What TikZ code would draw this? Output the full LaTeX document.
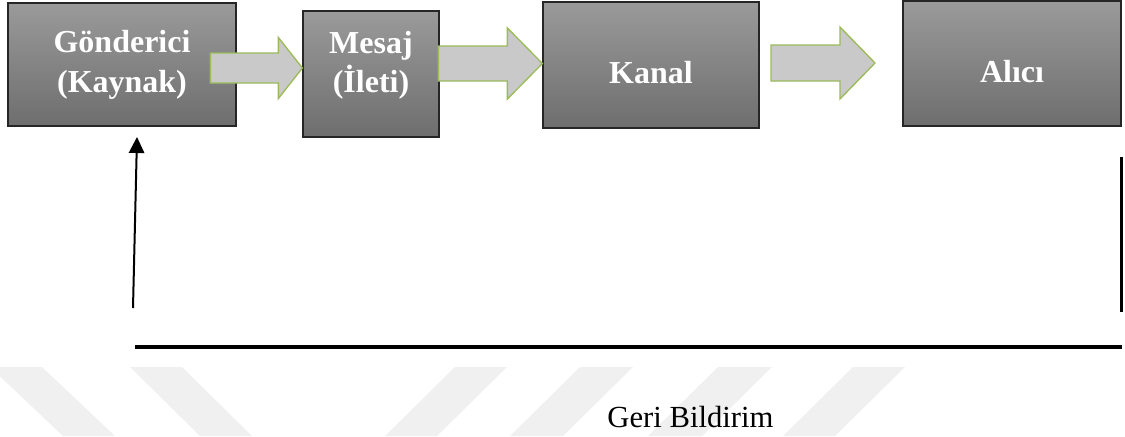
\documentclass[tikz,border=0pt]{standalone}
\usepackage{fontspec}
\setmainfont{Liberation Serif}
\usetikzlibrary{arrows.meta,calc,fit}

\definecolor{boxtop}{HTML}{9A9A9A}
\definecolor{boxbot}{HTML}{6E6E6E}
\definecolor{boxline}{HTML}{262626}
\definecolor{arrowfill}{HTML}{C9C9C9}
\definecolor{arrowline}{HTML}{9BBB59}
\definecolor{stripe}{HTML}{F0F0F0}

\tikzset{
  stagebox/.style={draw=boxline, line width=0.9pt, top color=boxtop,
    bottom color=boxbot, inner sep=0pt},
  stagetext/.style={text=white, font=\fontsize{24}{30}\selectfont\bfseries,
    anchor=base, inner sep=0pt},
  flowarrow/.style={fill=arrowfill, draw=arrowline, line width=1pt,
    line join=miter},
  feedarrow/.style={line width=1.5pt, -{Triangle[length=12pt,width=11.5pt]}},
  feedline/.style={line width=2.25pt},
  feedbase/.style={line width=3pt},
  feedlabel/.style={font=\fontsize{23}{28}\selectfont, anchor=base, inner sep=0pt},
  stripefill/.style={fill=stripe, draw=none},
}

% block arrow: tip, head length, head half-height, shaft half-height, shaft length
\newcommand\flowshape[5]{%
  \draw[flowarrow] (#1) -- ++(-#2,-#3) -- ++(0,#3-#4) -- ++(-#5,0)
    -- ++(0,2*#4) -- ++(#5,0) -- ++(0,#3-#4) -- cycle;}

\begin{document}
\begin{tikzpicture}[x=0.75pt,y=-0.75pt]
\useasboundingbox (0,0) rectangle (1125,436);

% faint diagonal stripes along the bottom edge
\begin{scope}
  \clip (0,0) rectangle (1125,436);
  \fill[stripefill] (-10,367) -- (42,367) -- (115,436) -- (63,436) -- cycle;
  \fill[stripefill] (130,367) -- (182,367) -- (252,436) -- (200,436) -- cycle;
  \fill[stripefill] (455,367) -- (507,367) -- (437,436) -- (385,436) -- cycle;
  \fill[stripefill] (580,367) -- (633,367) -- (563,436) -- (510,436) -- cycle;
  \fill[stripefill] (718,367) -- (772,367) -- (702,436) -- (648,436) -- cycle;
  \fill[stripefill] (853,367) -- (905,367) -- (835,436) -- (783,436) -- cycle;
\end{scope}

% communication stages
\node[stagebox, fit={(8,3) (236,126)}] (b1) {};
\node[stagebox, fit={(303,11) (439,137)}] (b2) {};
\node[stagebox, fit={(543,2) (759,128)}] (b3) {};
\node[stagebox, fit={(903,1) (1121,126)}] (b4) {};

\node[stagetext] (b1a) at (122,52) {Gönderici};
\node[stagetext] (b1b) at (122,92) {(Kaynak)};
\node[stagetext] (b2a) at (371,53) {Mesaj};
\node[stagetext] (b2b) at (371,92) {(İleti)};
\node[stagetext] (b3a) at (651,83) {Kanal};
\node[stagetext] (b4a) at (1012,82) {Alıcı};

% block arrows between the stages
\coordinate (t1) at (b2.west |- 0,68);
\coordinate (t2) at (b3.west |- 0,63.5);
\coordinate (t3) at (875,63);
\flowshape{t1}{24}{30.5}{15}{68}
\flowshape{t2}{35}{35.5}{17.5}{69}
\flowshape{t3}{35}{36}{18}{69}

% feedback loop
\coordinate (fbL) at (133,308);
\coordinate (fbTip) at (137,137);
\coordinate (fbRtop) at (1121,157);
\coordinate (fbRbot) at (1121,312);
\coordinate (fbA) at (135,347);
\coordinate (fbB) at (1122,347);
\draw[feedarrow] (fbL) -- (fbTip);
\draw[feedline] (fbRtop) -- (fbRbot);
\draw[feedbase] (fbA) -- (fbB);
\node[feedlabel] (fbtext) at (690.5,427) {Geri Bildirim};
\end{tikzpicture}
\end{document}
